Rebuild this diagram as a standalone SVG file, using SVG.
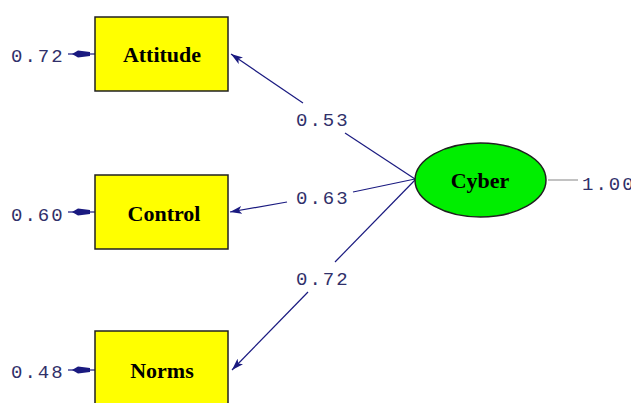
<svg xmlns="http://www.w3.org/2000/svg" width="631" height="403" viewBox="0 0 631 403">
<style>
.box{fill:#ffff00;stroke:#202020;stroke-width:1.5}
.lat{fill:#00ee00;stroke:#202020;stroke-width:1.5}
.name{font-family:"Liberation Serif",serif;font-weight:bold;font-size:22px;fill:#000;text-anchor:middle}
.num{font-family:"Liberation Mono",monospace;font-size:19px;letter-spacing:2px;fill:#30306a}
.path{stroke:#1a1a80;stroke-width:1.2;fill:none}
.err{fill:#1a1a80}
</style>
<defs>
<marker id="ah" viewBox="0 0 12 8" refX="12" refY="4" markerWidth="12" markerHeight="8" markerUnits="userSpaceOnUse" orient="auto">
<path d="M0,0 L12,4 L0,8 L3,4 Z" fill="#1a1a80"/>
</marker>
</defs>
<rect width="631" height="403" fill="#fff"/>
<g id="connectors">
<line class="path" x1="415" y1="179" x2="345" y2="133"/>
<line class="path" x1="303" y1="103" x2="231" y2="54" marker-end="url(#ah)"/>
<line class="path" x1="415" y1="179" x2="353" y2="192"/>
<line class="path" x1="287" y1="202" x2="230" y2="212" marker-end="url(#ah)"/>
<line class="path" x1="415" y1="180" x2="335" y2="262"/>
<line class="path" x1="308" y1="292" x2="232" y2="370" marker-end="url(#ah)"/>
<line x1="548" y1="180" x2="578" y2="180" stroke="#999" stroke-width="1.2"/>
<g id="err-att"><line class="path" x1="68" y1="54" x2="95" y2="54"/><polygon class="err" points="72,54 78,50.5 90,52 90,56 78,57.5"/></g>
<g id="err-con"><line class="path" x1="68" y1="212" x2="95" y2="212"/><polygon class="err" points="72,212 78,208.5 90,210 90,214 78,215.5"/></g>
<g id="err-nor"><line class="path" x1="68" y1="370" x2="95" y2="370"/><polygon class="err" points="72,370 78,366.5 90,368 90,372 78,373.5"/></g>
<text class="num" x="296" y="126">0.53</text>
<text class="num" x="296" y="204">0.63</text>
<text class="num" x="296" y="285">0.72</text>
</g>
<g id="attitude">
<rect class="box" x="95" y="17" width="133" height="74"/>
<text class="name" x="162" y="62">Attitude</text>
<text class="num" x="11" y="62">0.72</text>
</g>
<g id="control">
<rect class="box" x="95" y="175" width="133" height="74"/>
<text class="name" x="164" y="221">Control</text>
<text class="num" x="11" y="221">0.60</text>
</g>
<g id="norms">
<rect class="box" x="95" y="331" width="133" height="76"/>
<text class="name" x="162" y="378">Norms</text>
<text class="num" x="11" y="378">0.48</text>
</g>
<g id="cyber">
<ellipse class="lat" cx="480.5" cy="180" rx="65.5" ry="37"/>
<text class="name" x="480" y="188">Cyber</text>
<text class="num" x="582" y="190">1.00</text>
</g>
</svg>
